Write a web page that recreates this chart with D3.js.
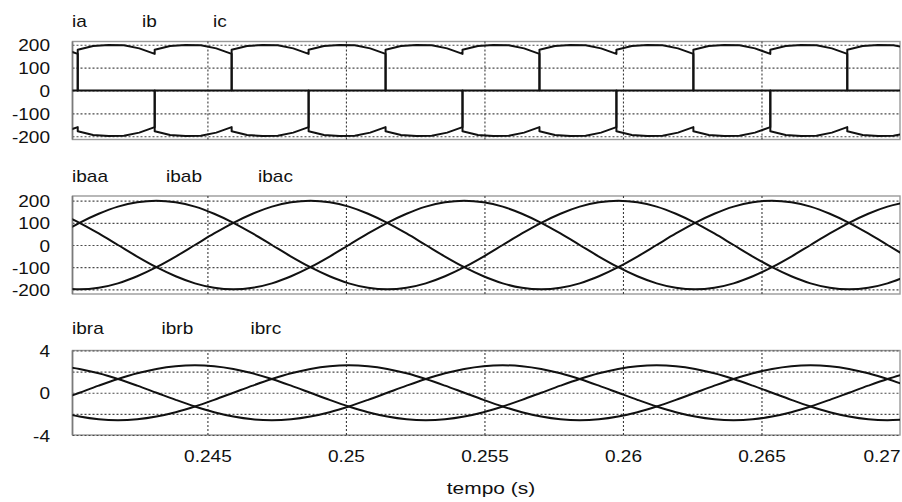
<!DOCTYPE html>
<html>
<head>
<meta charset="utf-8">
<script src="https://cdn.jsdelivr.net/npm/d3@7"></script>
<style>
  html, body { margin: 0; padding: 0; background: #fff; }
  svg { display: block; }
  text { font-family: "Liberation Sans", Arial, Helvetica, sans-serif; fill: #111; }
</style>
</head>
<body>
<svg id="chart" width="902" height="502"></svg>
<script>
// ---- line currents ia, ib, ic (A): 60-degree commutation intervals, six samples each ----
const timeLine = [
  0.237541, 0.238097, 0.238652, 0.239208, 0.239763, 0.240319,
  0.240319, 0.240875, 0.241430, 0.241986, 0.242541, 0.243097,
  0.243097, 0.243653, 0.244208, 0.244764, 0.245319, 0.245875,
  0.245875, 0.246431, 0.246986, 0.247542, 0.248097, 0.248653,
  0.248653, 0.249209, 0.249764, 0.250320, 0.250875, 0.251431,
  0.251431, 0.251987, 0.252542, 0.253098, 0.253653, 0.254208,
  0.254208, 0.254764, 0.255319, 0.255875, 0.256430, 0.256986,
  0.256986, 0.257542, 0.258097, 0.258653, 0.259208, 0.259764,
  0.259764, 0.260320, 0.260875, 0.261431, 0.261986, 0.262542,
  0.262542, 0.263098, 0.263653, 0.264209, 0.264764, 0.265319,
  0.265319, 0.265875, 0.266430, 0.266986, 0.267541, 0.268097,
  0.268097, 0.268653, 0.269208, 0.269764, 0.270319, 0.270875
];
const ia = [
  0, 0, 0, 0, 0, 0,
  178, 194, 199, 198, 184, 160,
  178, 194, 199, 198, 184, 160,
  0, 0, 0, 0, 0, 0,
  -178, -194, -199, -198, -184, -160,
  -178, -194, -199, -198, -184, -160,
  0, 0, 0, 0, 0, 0,
  178, 194, 199, 198, 184, 160,
  178, 194, 199, 198, 184, 160,
  0, 0, 0, 0, 0, 0,
  -178, -194, -199, -198, -184, -160,
  -178, -194, -199, -198, -184, -160
];
const ib = [
  -178, -194, -199, -198, -184, -160,
  -178, -194, -199, -198, -184, -160,
  0, 0, 0, 0, 0, 0,
  178, 194, 199, 198, 184, 160,
  178, 194, 199, 198, 184, 160,
  0, 0, 0, 0, 0, 0,
  -178, -194, -199, -198, -184, -160,
  -178, -194, -199, -198, -184, -160,
  0, 0, 0, 0, 0, 0,
  178, 194, 199, 198, 184, 160,
  178, 194, 199, 198, 184, 160,
  0, 0, 0, 0, 0, 0
];
const ic = [
  178, 194, 199, 198, 184, 160,
  0, 0, 0, 0, 0, 0,
  -178, -194, -199, -198, -184, -160,
  -178, -194, -199, -198, -184, -160,
  0, 0, 0, 0, 0, 0,
  178, 194, 199, 198, 184, 160,
  178, 194, 199, 198, 184, 160,
  0, 0, 0, 0, 0, 0,
  -178, -194, -199, -198, -184, -160,
  -178, -194, -199, -198, -184, -160,
  0, 0, 0, 0, 0, 0,
  178, 194, 199, 198, 184, 160
];

// ---- branch currents, sampled every 15 electrical degrees (60 Hz) ----
const timeSine = [
  0.239688, 0.240382, 0.241076, 0.241771, 0.242466, 0.243160, 0.243854, 0.244549,
  0.245243, 0.245938, 0.246632, 0.247327, 0.248021, 0.248716, 0.249410, 0.250104,
  0.250799, 0.251493, 0.252188, 0.252882, 0.253577, 0.254271, 0.254966, 0.255660,
  0.256354, 0.257049, 0.257743, 0.258438, 0.259132, 0.259827, 0.260521, 0.261216,
  0.261910, 0.262604, 0.263299, 0.263993, 0.264688, 0.265382, 0.266077, 0.266771,
  0.267466, 0.268160, 0.268854, 0.269549, 0.270243
];
const ibaa = [
  141, 100, 52, 0, -52,
  -100, -141, -173, -193, -200, -193, -173, -141, -100, -52, 0, 52,
  100, 141, 173, 193, 200, 193, 173, 141, 100, 52, 0, -52,
  -100, -141, -173, -193, -200, -193, -173, -141, -100, -52, 0, 52,
  100, 141, 173, 193
];
const ibab = [
  52, 100, 141, 173, 193,
  200, 193, 173, 141, 100, 52, 0, -52, -100, -141, -173, -193,
  -200, -193, -173, -141, -100, -52, 0, 52, 100, 141, 173, 193,
  200, 193, 173, 141, 100, 52, 0, -52, -100, -141, -173, -193,
  -200, -193, -173, -141
];
const ibac = [
  -193, -200, -193, -173, -141,
  -100, -52, 0, 52, 100, 141, 173, 193, 200, 193, 173, 141,
  100, 52, 0, -52, -100, -141, -173, -193, -200, -193, -173, -141,
  -100, -52, 0, 52, 100, 141, 173, 193, 200, 193, 173, 141,
  100, 52, 0, -52
];
const ibra = [
  2.51, 2.25, 1.84, 1.3, 0.67, 0, -0.67, -1.3, -1.84, -2.25, -2.51, -2.6,
  -2.51, -2.25, -1.84, -1.3, -0.67, 0, 0.67, 1.3, 1.84, 2.25, 2.51, 2.6,
  2.51, 2.25, 1.84, 1.3, 0.67, 0, -0.67, -1.3, -1.84, -2.25, -2.51, -2.6,
  -2.51, -2.25, -1.84, -1.3, -0.67, 0, 0.67, 1.3, 1.84
];
const ibrb = [
  -0.67, 0, 0.67, 1.3, 1.84, 2.25, 2.51, 2.6,
  2.51, 2.25, 1.84, 1.3, 0.67, 0, -0.67, -1.3, -1.84, -2.25, -2.51,
  -2.6, -2.51, -2.25, -1.84, -1.3, -0.67, 0, 0.67, 1.3, 1.84, 2.25, 2.51,
  2.6, 2.51, 2.25, 1.84, 1.3, 0.67, 0, -0.67, -1.3, -1.84, -2.25, -2.51,
  -2.6, -2.51
];
const ibrc = [
  -1.84, -2.25, -2.51, -2.6, -2.51, -2.25, -1.84, -1.3, -0.67, 0, 0.67, 1.3, 1.84, 2.25, 2.51,
  2.6, 2.51, 2.25, 1.84, 1.3, 0.67, 0, -0.67, -1.3, -1.84, -2.25, -2.51,
  -2.6, -2.51, -2.25, -1.84, -1.3, -0.67, 0, 0.67, 1.3, 1.84, 2.25, 2.51,
  2.6, 2.51, 2.25, 1.84, 1.3, 0.67
];

// ---- axis ticks ----
const xTicks = [0.245, 0.25, 0.255, 0.26, 0.265, 0.27];
const xTickLabels = ["0.245", "0.25", "0.255", "0.26", "0.265", "0.27"];
const xLabel = "tempo (s)";
const yTicksKA = [200, 100, 0, -100, -200];
const yGridBr = [4, 2, 0, -2, -4];
const yTicksBr = [4, 0, -4];

// ---- layout ----
const svg = d3.select("#chart");
const left = 72.5, right = 900;
const SX = 1.12;       // horizontal stretch of the lettering
const FS = 17;

const x = d3.scaleLinear().domain([0.24013, 0.27]).range([left, right]);

const panels = [
  { names: ["ia", "ib", "ic"], legendX: [72, 142, 213], legendY: 26.5,
    time: timeLine, series: [ia, ib, ic], curve: d3.curveLinear,
    top: 41.5, bottom: 139.5, domain: [-214, 214],
    grid: yTicksKA, ticks: yTicksKA },
  { names: ["ibaa", "ibab", "ibac"], legendX: [72, 166, 258], legendY: 181.5,
    time: timeSine, series: [ibaa, ibab, ibac], curve: d3.curveMonotoneX,
    top: 196, bottom: 294, domain: [-221, 221],
    grid: yTicksKA, ticks: yTicksKA },
  { names: ["ibra", "ibrb", "ibrc"], legendX: [72, 161.5, 250.5], legendY: 334,
    time: timeSine, series: [ibra, ibrb, ibrc], curve: d3.curveMonotoneX,
    top: 350.5, bottom: 435, domain: [-4, 4],
    grid: yGridBr, ticks: yTicksBr }
];

// stretched text helper
function stretch(sel, dx, dy) {
  sel.attr("x", null).attr("y", null).attr("dy", null)
     .attr("transform", `translate(${dx},${dy}) scale(${SX},1)`);
}

panels.forEach((p, pi) => {
  const y = d3.scaleLinear().domain(p.domain).range([p.bottom, p.top]);
  const g = svg.append("g");
  const w = right - left, h = p.bottom - p.top;

  // frame
  g.append("rect")
    .attr("x", left).attr("y", p.top).attr("width", w).attr("height", h)
    .attr("fill", "#fff").attr("stroke", "#9a9a9a").attr("stroke-width", 1.4);

  // horizontal dotted grid
  g.append("g")
    .attr("transform", `translate(${left},0)`)
    .call(d3.axisLeft(y).tickValues(p.grid).tickSize(-w).tickFormat(""))
    .call(a => a.select(".domain").remove())
    .call(a => a.selectAll("line").attr("stroke", "#4a4a4a").attr("stroke-width", 1.1)
      .attr("stroke-dasharray", "2,2"));

  // vertical dotted grid
  g.append("g")
    .attr("transform", `translate(0,${p.bottom})`)
    .call(d3.axisBottom(x).tickValues(xTicks.slice(0, 5)).tickSize(-h).tickFormat(""))
    .call(a => a.select(".domain").remove())
    .call(a => a.selectAll("line").attr("stroke", "#3a3a3a").attr("stroke-width", 1.1)
      .attr("stroke-dasharray", "2,2"));

  // left edge
  g.append("line").attr("x1", left).attr("x2", left).attr("y1", p.top).attr("y2", p.bottom)
    .attr("stroke", "#7a7a7a").attr("stroke-width", 1.6);

  // y tick labels (plain hyphen for negatives)
  g.append("g")
    .attr("transform", `translate(${left},0)`)
    .call(d3.axisLeft(y).tickValues(p.ticks).tickSize(0).tickFormat(d => String(d)))
    .call(a => a.select(".domain").remove())
    .call(a => a.selectAll("text")
      .attr("font-size", FS).attr("fill", "#111")
      .attr("font-family", "Liberation Sans, Arial, sans-serif")
      .attr("text-anchor", "end")
      .each(function () { stretch(d3.select(this), -22.5, 6); }));

  // traces
  const clipId = "clip" + pi;
  g.append("clipPath").attr("id", clipId)
    .append("rect").attr("x", left).attr("y", p.top - 2).attr("width", w).attr("height", h + 4);
  const line = d3.line().curve(p.curve).x(d => x(d[0])).y(d => y(d[1]));
  p.series.forEach(s => {
    g.append("path")
      .attr("clip-path", `url(#${clipId})`)
      .attr("d", line(p.time.map((t, i) => [t, s[i]])))
      .attr("fill", "none").attr("stroke", "#111").attr("stroke-width", 2)
      .attr("stroke-linejoin", "round");
  });

  // series names
  p.names.forEach((n, k) => {
    g.append("text").text(n).attr("font-size", FS)
      .attr("transform", `translate(${p.legendX[k]},${p.legendY}) scale(${SX},1)`);
  });

  // x tick labels under the last panel
  if (pi === panels.length - 1) {
    const ax = g.append("g")
      .attr("transform", `translate(0,${p.bottom})`)
      .call(d3.axisBottom(x).tickValues(xTicks).tickSize(0)
        .tickFormat((d, i) => xTickLabels[i]));
    ax.select(".domain").remove();
    ax.selectAll("text")
      .attr("font-size", FS).attr("fill", "#111")
      .attr("font-family", "Liberation Sans, Arial, sans-serif")
      .attr("text-anchor", (d, i) => i === xTicks.length - 1 ? "end" : "middle")
      .each(function () { stretch(d3.select(this), 0, 27); });
  }
});

// axis title
svg.append("text").text(xLabel).attr("font-size", FS)
  .attr("text-anchor", "middle")
  .attr("transform", `translate(491,494) scale(${SX * 1.1},1)`);
</script>
</body>
</html>
